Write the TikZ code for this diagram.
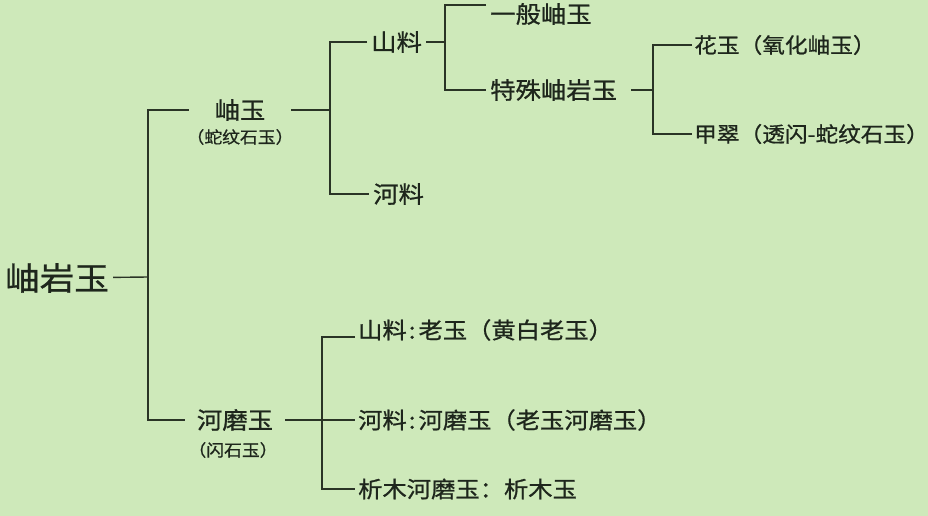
\documentclass[tikz,border=0pt]{standalone}
\usepackage{fontspec}
\newfontfamily\cjk[FakeStretch=1.08, FakeBold=0.9]{Noto Sans CJK SC}
\definecolor{bgc}{RGB}{206,233,186}
\definecolor{linec}{RGB}{42,52,38}
\definecolor{txtc}{RGB}{30,38,28}
\tikzset{
  lbl/.style={inner xsep=4pt, inner ysep=2pt, text=txtc, font=\cjk\fontsize{23.5}{26}\selectfont},
  rlbl/.style={lbl, inner xsep=2pt, font=\cjk\fontsize{21}{24}\selectfont},
  blbl/.style={lbl, inner xsep=3pt, font=\cjk\fontsize{22.5}{25}\selectfont},
  sublbl/.style={lbl, font=\cjk\fontsize{16.5}{18}\selectfont},
  link/.style={draw=linec, line width=1.4pt}
}
\begin{document}
\begin{tikzpicture}[x=1pt, y=-1pt]
\fill[bgc] (0,0) rectangle (928,516);
\useasboundingbox (0,0) rectangle (928,516);

\node[lbl, anchor=west, font=\cjk\fontsize{32}{36}\selectfont] (root) at (1,278) {岫岩玉};
\coordinate (j1) at (148,277);

\node[lbl, minimum width=102pt] (xiuyu) at (240,110) {岫玉};
\node[sublbl] (xiuyusub) at (240,137) {（蛇纹石玉）};
\node[lbl, minimum width=100pt] (hemo) at (235,420) {河磨玉};
\node[sublbl] (hemosub) at (233,450) {（闪石玉）};

\coordinate (j2) at (330,110);
\node[lbl, anchor=west] (shan) at (367,42) {山料};
\node[lbl, anchor=west] (he) at (369,194) {河料};

\coordinate (j3) at (445,42);
\node[lbl, anchor=west] (yiban) at (486,14) {一般岫玉};
\node[lbl, anchor=west] (teshu) at (486,90) {特殊岫岩玉};

\coordinate (j4) at (653,90);
\node[rlbl, anchor=west] (huayu) at (692,45) {花玉（氧化岫玉）};
\node[rlbl, anchor=west] (jiacui) at (692,134) {甲翠（透闪-蛇纹石玉）};

\coordinate (j5) at (322,420);
\node[blbl, anchor=west] (shanlao) at (355,330) {山料\hspace{2pt}:\hspace{3pt}老玉（黄白老玉）};
\node[blbl, anchor=west] (hemohe) at (355,420) {河料\hspace{2pt}:\hspace{3pt}河磨玉（老玉河磨玉）};
\node[blbl, anchor=west] (ximu) at (355,489) {析木河磨玉：析木玉};

\draw[link] (root) -- (j1);
\draw[link] (xiuyu.west) -| (j1) |- (hemo.west);
\draw[link] (xiuyu.east) -- (j2);
\draw[link] (shan.west) -| (j2) |- (he.west);
\draw[link] (shan.east) -- (j3);
\draw[link] ([yshift=9pt]yiban.west) -| (j3) |- (teshu.west);
\draw[link, shorten <=10pt] (teshu.east) -- (j4);
\draw[link] (huayu.west) -| (j4) |- (jiacui.west);
\draw[link] (hemo.east) -- (hemohe.west);
\draw[link] ([yshift=-7pt]shanlao.west) -| (j5) |- (ximu.west);
\end{tikzpicture}
\end{document}
